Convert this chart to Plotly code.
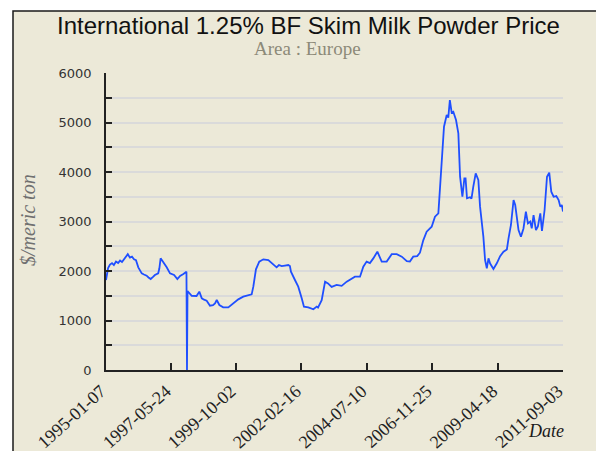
import plotly.graph_objects as go

# ---------------- data ----------------
dates = [
    "1995-01-07", "1995-01-21", "1995-02-04", "1995-03-01", "1995-03-28", "1995-04-22", "1995-05-20",
    "1995-06-17", "1995-07-13", "1995-08-08", "1995-09-04", "1995-10-01", "1995-10-24", "1995-11-22", "1995-12-19",
    "1996-01-15", "1996-02-10", "1996-03-12", "1996-04-27", "1996-05-26", "1996-07-01", "1996-07-26",
    "1996-08-24", "1996-09-24", "1996-10-19", "1996-12-02", "1996-12-17",
    "1997-01-03", "1997-01-25", "1997-02-16", "1997-03-25", "1997-05-08", "1997-07-01", "1997-08-14",
    "1997-09-19", "1997-11-02", "1997-12-13", "1997-12-20", "1997-12-27",
    "1998-02-21", "1998-04-26", "1998-06-02", "1998-07-05", "1998-08-04", "1998-09-08", "1998-10-22",
    "1998-12-01", "1998-12-28",
    "1999-01-20", "1999-02-24", "1999-04-16", "1999-06-23", "1999-08-29", "1999-11-03",
    "2000-01-08", "2000-03-14", "2000-04-29", "2000-05-21", "2000-06-25", "2000-08-08", "2000-10-01", "2000-12-07",
    "2001-02-10", "2001-03-27", "2001-04-27", "2001-06-02", "2001-07-16", "2001-08-29", "2001-09-20",
    "2001-10-04", "2001-11-26",
    "2002-01-09", "2002-02-24", "2002-03-26", "2002-05-23", "2002-07-29", "2002-09-12", "2002-09-29", "2002-11-17",
    "2003-01-01", "2003-02-09", "2003-03-29", "2003-06-04", "2003-08-10", "2003-10-16", "2003-11-29",
    "2004-02-03", "2004-04-10", "2004-05-24", "2004-07-07", "2004-08-20", "2004-10-04", "2004-11-27",
    "2005-01-24", "2005-03-31", "2005-06-06", "2005-08-12", "2005-10-18", "2005-12-24",
    "2006-02-03", "2006-03-19", "2006-05-11", "2006-06-17", "2006-07-31", "2006-09-14", "2006-11-20",
    "2007-01-03", "2007-02-17", "2007-03-11", "2007-04-02", "2007-05-03", "2007-06-08", "2007-06-29",
    "2007-07-20", "2007-08-13", "2007-09-04", "2007-10-10", "2007-11-10", "2007-12-03",
    "2008-01-03", "2008-01-29", "2008-02-14", "2008-03-04", "2008-04-13", "2008-05-03", "2008-05-27",
    "2008-06-28", "2008-08-02", "2008-08-25", "2008-10-08", "2008-10-31", "2008-11-23", "2008-12-15",
    "2009-01-06", "2009-01-28", "2009-02-19", "2009-04-05", "2009-05-19", "2009-07-03", "2009-08-17",
    "2009-09-08", "2009-10-10", "2009-11-14", "2009-12-06",
    "2010-01-19", "2010-02-20", "2010-03-26", "2010-04-27", "2010-05-24", "2010-06-24", "2010-07-14",
    "2010-08-07", "2010-09-08", "2010-10-04", "2010-11-05", "2010-11-27",
    "2011-01-01", "2011-02-02", "2011-03-04", "2011-03-31", "2011-05-01", "2011-06-06", "2011-07-07",
    "2011-07-29", "2011-08-18", "2011-09-03",
]

prices = [
    1818, 1950, 2060, 2130, 2160, 2120, 2190, 2160, 2210, 2180, 2240, 2290, 2340, 2270, 2290,
    2236, 2220, 2074, 1953, 1930, 1906, 1870, 1838, 1880, 1919, 1953, 2050,
    2256, 2210, 2168, 2074, 1953, 1919, 1838, 1900, 1940, 1986, 0, 1596,
    1500, 1495, 1582, 1448, 1420, 1400, 1300, 1310, 1347,
    1414, 1313, 1266, 1266, 1347, 1427,
    1481, 1515, 1528, 1683, 2034, 2188, 2236, 2222,
    2141, 2074, 2121, 2100, 2110, 2121, 2100, 1986, 1818,
    1683, 1448, 1280, 1266, 1226, 1280, 1260, 1410,
    1785, 1750, 1680, 1720, 1700, 1785, 1830,
    1885, 1885, 2087, 2190, 2160, 2255, 2390,
    2190, 2190, 2340, 2340, 2290, 2200,
    2190, 2290, 2300, 2370, 2620, 2795, 2895,
    3097, 3165, 3636, 4242, 4915, 5150, 5100, 5454, 5200, 5218, 5050, 4780, 3905,
    3500, 3870, 3870, 3468, 3490, 3460, 3703, 3973, 3840, 3300, 2693, 2222, 2054, 2255,
    2150, 2087, 2040, 2155, 2300, 2390, 2437, 2660, 2930, 3434, 3333,
    2828, 2693, 2860, 3198, 2962, 3000, 2860, 3130, 2828, 2900, 3165, 2808,
    3232, 3905, 3986, 3602, 3500, 3515, 3434, 3300, 3333, 3200,
]

x_tick_dates = ["1995-01-07", "1997-05-24", "1999-10-02", "2002-02-16",
                "2004-07-10", "2006-11-25", "2009-04-18", "2011-09-03"]
y_tick_values = [0, 500, 1000, 1500, 2000, 2500, 3000, 3500, 4000, 4500, 5000, 5500, 6000]
y_tick_labels = ["0", "", "1000", "", "2000", "", "3000", "", "4000", "", "5000", "", "6000"]

title_text = "International 1.25% BF Skim Milk Powder Price"
subtitle_text = "Area : Europe"
y_title = "$/meric ton"
x_title = "Date"

# ---------------- layout geometry ----------------
# The page body has an 8px margin, so the figure is placed at (8, 8) in the window.
OFF = 8
W, H = 604 - OFF, 451 - OFF
# plot-area edges in window pixels (reference coordinates)
RL, RR, RT, RB = 106, 563, 73, 370
L, R, T, B = RL - OFF, RR - OFF, RT - OFF, RB - OFF
BEIGE = "#ECE9D8"


def px(x):
    """window x (reference pixels) -> paper fraction"""
    return (x - RL) / (RR - RL)


def py(y):
    """window y (reference pixels) -> paper fraction"""
    return (RB - y) / (RB - RT)


fig = go.Figure(
    go.Scatter(x=dates, y=prices, mode="lines",
               line=dict(color="#1F4FFF", width=1.8), hoverinfo="skip")
)

fig.update_layout(
    width=W, height=H,
    margin=dict(l=L, r=W - R, t=T, b=H - B, autoexpand=False),
    paper_bgcolor="white",
    plot_bgcolor="#ffffff",
    showlegend=False,
    shapes=[dict(type="rect", xref="paper", yref="paper",
                 x0=px(13), x1=px(640), y0=py(490), y1=py(11),
                 fillcolor=BEIGE, line=dict(color="#1a1a1a", width=1.5),
                 layer="below")],
    annotations=[
        dict(text=title_text, xref="paper", yref="paper", x=px(308), y=py(25),
             xanchor="center", yanchor="middle", showarrow=False,
             font=dict(family="Liberation Sans", size=24, color="#111111")),
        dict(text=subtitle_text, xref="paper", yref="paper", x=px(307), y=py(48),
             xanchor="center", yanchor="middle", showarrow=False,
             font=dict(family="Liberation Serif", size=19, color="#8C8A78")),
        dict(text="<i>" + y_title + "</i>", xref="paper", yref="paper", x=px(28), y=py(220),
             xanchor="center", yanchor="middle", showarrow=False, textangle=-90,
             font=dict(family="Liberation Serif", size=20, color="#707070")),
        dict(text="<i>" + x_title + "</i>", xref="paper", yref="paper", x=px(546), y=py(431),
             xanchor="center", yanchor="middle", showarrow=False,
             font=dict(family="Liberation Serif", size=18, color="#1a1a1a")),
    ],
)

fig.update_xaxes(
    type="date",
    range=["1995-01-07", "2011-09-03"],
    tickvals=x_tick_dates, ticktext=x_tick_dates,
    tickangle=-42,
    ticks="inside", ticklen=7, tickwidth=1.5, tickcolor="#222222",
    showline=True, linecolor="#222222", linewidth=1.5,
    showgrid=False, zeroline=False,
    ticklabelshift=-5, ticklabelstandoff=2,
    tickfont=dict(family="Liberation Serif", size=18, color="#222222"),
    fixedrange=True,
)

fig.update_yaxes(
    range=[0, 6000],
    tickvals=y_tick_values, ticktext=y_tick_labels,
    ticks="inside", ticklen=6, tickwidth=1.5, tickcolor="#222222",
    showline=True, linecolor="#222222", linewidth=1.5,
    showgrid=True, gridcolor="#DADADA", gridwidth=1.5,
    zeroline=False,
    ticklabelstandoff=10,
    tickfont=dict(family="DejaVu Sans", size=13, color="#333333"),
    fixedrange=True,
)

fig.write_html("out.html")
